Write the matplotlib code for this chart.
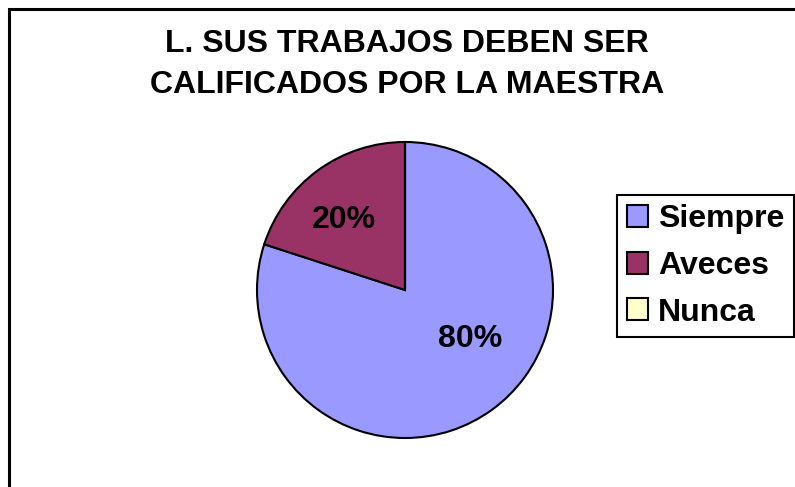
# L. SUS TRABAJOS DEBEN SER CALIFICADOS POR LA MAESTRA

import matplotlib
matplotlib.use('Agg')
import matplotlib.pyplot as plt
from matplotlib.patches import Rectangle

plt.rcParams['font.family'] = ['Liberation Sans', 'DejaVu Sans']

# datos
categorias = ['Siempre', 'Aveces', 'Nunca']
valores = [80, 20, 0]
colores = ['#9999FF', '#993366', '#FFFFCC']
titulo = 'L. SUS TRABAJOS DEBEN SER\nCALIFICADOS POR LA MAESTRA'

W, H = 795, 487
fig = plt.figure(figsize=(W / 100, H / 100), dpi=100)

# marco del grafico (se sale por la derecha y abajo)
fig.patches.append(Rectangle((9 / W, -0.1), 1.2, 1 - 9 / H + 0.1,
                             transform=fig.transFigure, fill=False,
                             edgecolor='black', linewidth=2.2, zorder=0))

# eje del pastel: centro (405, 290), radio 148 px
cx, cy, r = 405, 290, 148
ax = fig.add_axes([(cx - r) / W, (H - cy - r) / H, 2 * r / W, 2 * r / H])

wedges, textos, pcts = ax.pie(valores, colors=colores, startangle=90, counterclock=False,
                              autopct='%1.0f%%', pctdistance=0.6,
                              wedgeprops=dict(edgecolor='black', linewidth=1.5),
                              textprops=dict(fontsize=23, fontweight='bold'))
ax.set_xlim(-1, 1)
ax.set_ylim(-1, 1)
ax.set_aspect('equal')

# posiciones de etiquetas como en Excel
pcts[0].set_position((0.44, -0.33))
pcts[1].set_position((-0.41, 0.47))
pcts[2].set_visible(False)

fig.text(407 / W, 1 - 64.5 / H, titulo, ha='center', va='center',
         fontsize=23, fontweight='bold', linespacing=1.44)

leg = fig.legend(wedges, categorias, loc='center', bbox_to_anchor=(705.5 / W, 1 - 266 / H),
                 prop=dict(size=23, weight='bold'), frameon=True, fancybox=False,
                 edgecolor='black', framealpha=1, handlelength=0.68, handleheight=0.68,
                 handletextpad=0.3, labelspacing=0.52, borderpad=0.3, borderaxespad=0)
leg.get_frame().set_linewidth(1.5)

fig.savefig('out.png', dpi=100)
